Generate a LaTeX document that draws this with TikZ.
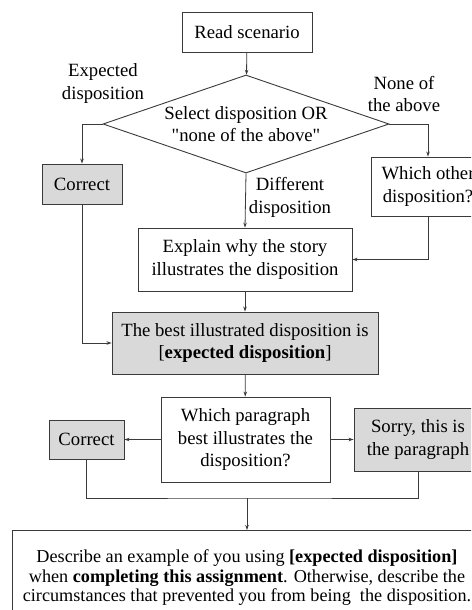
\documentclass[tikz,border=0pt]{standalone}
\usepackage{fontspec}
\setmainfont{Liberation Serif}
\usepackage{xcolor}
\usetikzlibrary{shapes.geometric, arrows.meta, positioning}
\definecolor{BoxGray}{HTML}{D9D9D9}
\definecolor{EdgeDark}{HTML}{3A3A3A}

\begin{document}
\begin{tikzpicture}[x=1pt, y=-1pt,
    font=\fontsize{18.7}{22.4}\selectfont,
    box/.style 2 args={draw=EdgeDark, line width=0.9pt, rectangle, align=center,
        inner sep=0pt, minimum width=#1, minimum height=#2},
    shaded/.style={fill=BoxGray},
    decision/.style={draw=EdgeDark, line width=0.9pt, diamond, aspect=2.92,
        align=center, inner sep=0pt, minimum width=286pt, minimum height=98pt},
    lbl/.style={align=center, inner sep=0pt},
    link/.style={draw=EdgeDark, line width=0.8pt},
    arr/.style={link, -{Stealth[length=5pt, width=3.5pt]}}
]
    % fixed frame, the right edge cuts the boxes as in the source
    \useasboundingbox (0,0) rectangle (471,610);
    \clip (0,0) rectangle (471,610);

    % Top of the flow
    \node[box={130pt}{40pt}] (read) at (247,32) {Read scenario};
    \node[decision] (select) at (246,124)
        {Select disposition OR\\\textquotedbl none of the above\textquotedbl};
    \node[box={80pt}{40pt}, shaded] (correctA) at (82,184) {Correct};
    \node[box={114pt}{59pt}] (other) at (428,186.5) {Which other\\disposition?};
    \node[box={214pt}{63pt}] (explain) at (245,259.5) {Explain why the story\\illustrates the disposition};
    \node[box={266pt}{62pt}, shaded] (best) at (245,343)
        {The best illustrated disposition is\\{[}\textbf{expected disposition}{]}};

    % Branch labels
    \node[lbl] (lblExpected) at (103,83.5) {Expected\\disposition};
    \node[lbl] (lblNone) at (404,94) {None of\\the above};
    \node[lbl] (lblDifferent) at (290,197.5) {Different\\disposition};

    % Paragraph question
    \node[box={169pt}{85pt}] (para) at (245.5,439.5) {Which paragraph\\best illustrates the\\disposition?};
    \node[box={75pt}{39pt}, shaded] (correctB) at (86.5,439.5) {Correct};
    \node[box={128pt}{63pt}, shaded] (sorry) at (418,439.5) {Sorry, this is\\the paragraph};
    \coordinate (join) at (247,498);
    \node[box={470pt}{0pt}, anchor=north, inner ysep=19.5pt,
        font=\fontsize{18.2}{19.5}\selectfont] (describe) at (247,530)
        {Describe an example of you using \textbf{[expected disposition]}\\
         when \textbf{completing this assignment}. Otherwise, describe the\\
         circumstances that prevented you from being\ \ the disposition.};

    % Connectors
    \draw[arr] (read) -- (select);
    \draw[arr] (select.west) -| (correctA.north);
    \draw[arr] (select.east) -| (other.north);
    \draw[arr] (select.south) -- (explain.north);
    \draw[arr] (other.south) |- (explain.east);
    \draw[arr] (explain) -- (best);
    \draw[arr] (correctA.south) |- (best.west);
    \draw[arr] (best) -- (para);
    \draw[arr] (para) -- (correctB);
    \draw[arr] (para) -- (sorry);
    \draw[link] (correctB.south) |- (join) -| (sorry.south);
    \draw[arr] (join) -- (describe.north);
\end{tikzpicture}
\end{document}
